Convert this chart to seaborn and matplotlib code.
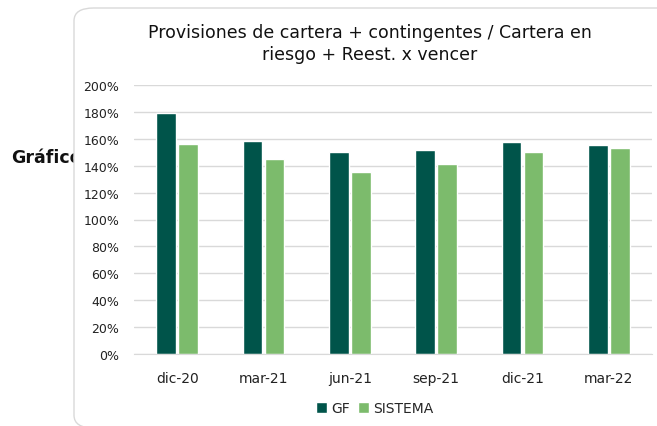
import numpy as np
import pandas as pd
import matplotlib
matplotlib.use('Agg')
import matplotlib.pyplot as plt
from matplotlib.patches import FancyBboxPatch
from matplotlib.ticker import PercentFormatter
import seaborn as sns

# ── Data ───────────────────────────────────────────────────────────────────
PERIODS = ['dic-20', 'mar-21', 'jun-21', 'sep-21', 'dic-21', 'mar-22']
GF      = [179.5, 158.0, 150.5, 152.0, 157.5, 155.7]
SISTEMA = [156.5, 144.7, 135.3, 141.3, 150.2, 153.0]
SERIES  = ['GF', 'SISTEMA']
COLORS  = ['#00544A', '#7CBB6C']

df = pd.DataFrame({
    'periodo': PERIODS * 2,
    'serie': ['GF'] * len(GF) + ['SISTEMA'] * len(SISTEMA),
    'valor': GF + SISTEMA,
})

sns.set_style('white')
plt.rcParams['font.family'] = ['DejaVu Sans']

fig = plt.figure(figsize=(6.57, 4.27), dpi=100)
fig.patch.set_facecolor('white')

# page text behind the chart card (cut off by the card, as in the source)
fig.text(11 / 657, 1 - 158 / 427, 'Gráfico', fontsize=12.5, fontweight='bold',
         ha='left', va='center', color='#111111', zorder=0)

card = FancyBboxPatch((74 / 657, -2 / 427), 1.0, 1 - 9 / 427 + 2 / 427,
                      boxstyle='round,pad=0,rounding_size=0.03',
                      transform=fig.transFigure, facecolor='white',
                      edgecolor='#D9D9D9', linewidth=1.0, zorder=1)
fig.patches.append(card)

fig.text(370 / 657, 1 - 24 / 427,
         'Provisiones de cartera + contingentes / Cartera en\nriesgo + Reest. x vencer',
         fontsize=12.5, color='#111111', ha='center', va='top',
         linespacing=1.25, zorder=3)

ax = fig.add_axes([134 / 657, 1 - 355 / 427, (652 - 134) / 657, (355 - 86) / 427])
ax.set_zorder(2)
ax.patch.set_alpha(0)

sns.barplot(data=df, x='periodo', y='valor', hue='serie', hue_order=SERIES,
            palette=COLORS, width=0.51, gap=0.11, saturation=1,
            ax=ax, legend=True)

ax.set_ylim(0, 200)
ax.set_yticks(np.arange(0, 201, 20))
ax.yaxis.set_major_formatter(PercentFormatter(decimals=0))
ax.grid(axis='y', color='#D9D9D9', linewidth=1.0)
ax.set_axisbelow(True)
for s in ['top', 'right', 'left']:
    ax.spines[s].set_visible(False)
ax.spines['bottom'].set_color('#D9D9D9')
ax.tick_params(axis='both', length=0, colors='#222222')
ax.tick_params(axis='y', pad=10.5, labelsize=9)
ax.tick_params(axis='x', pad=12, labelsize=10)
ax.set_xlabel('')
ax.set_ylabel('')

ax.legend(loc='upper center', bbox_to_anchor=(0.465, -0.13), ncol=2,
          frameon=False, fontsize=10, handlelength=0.8, handleheight=0.8,
          handletextpad=0.3, columnspacing=0.6)

plt.savefig('out.png', dpi=100)
